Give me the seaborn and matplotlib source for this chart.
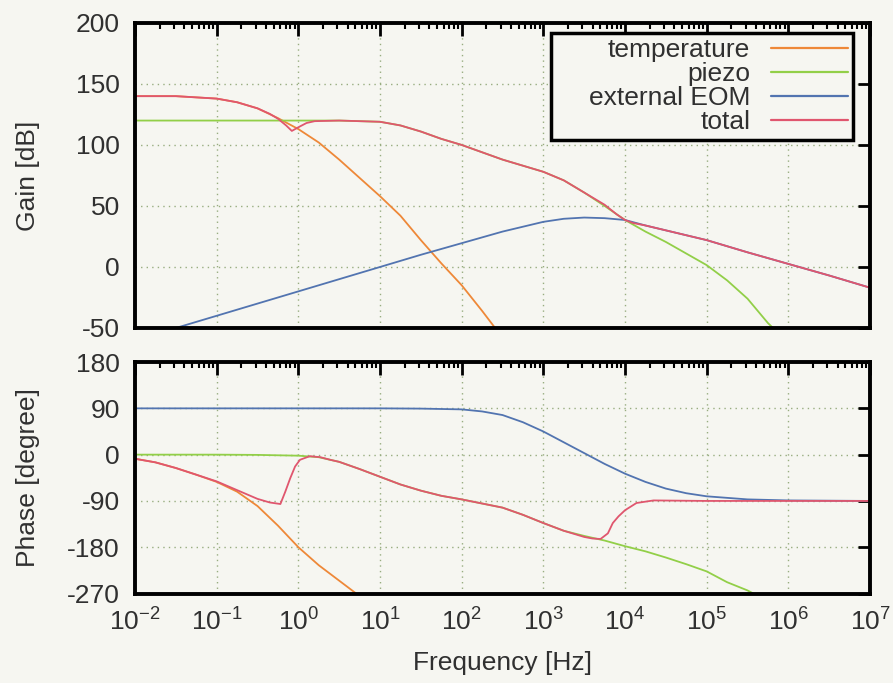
import numpy as np
import pandas as pd
import matplotlib
matplotlib.use('Agg')
import matplotlib.pyplot as plt
import seaborn as sns
from matplotlib.lines import Line2D
from matplotlib.ticker import LogLocator, NullFormatter, LogFormatterSciNotation, FixedLocator

# ── data (x given as log10 of frequency in Hz) ──
series_names = ["temperature", "piezo", "external EOM", "total"]

temp_gain_logf = [-2, -1.5, -1, -0.75, -0.5, -0.25, 0, 0.25, 0.5, 0.75, 1, 1.25, 1.5, 1.75, 2, 2.25, 2.5]
temp_gain_db = [140, 140, 138, 135, 130, 122, 113, 102, 88, 73, 58, 42, 22, 3, -15, -36, -58]

piezo_gain_logf = [-2, -1, 0, 0.5, 1, 1.25, 1.5, 1.75, 2, 2.25, 2.5, 2.75, 3, 3.25, 3.5, 3.75,
                   4, 4.25, 4.5, 4.75, 5, 5.25, 5.5, 5.75, 6]
piezo_gain_db = [120, 120, 120, 120, 119, 116, 111, 105, 100, 94, 88, 83, 78, 71, 61, 50,
                 38.5, 29, 20.5, 11, 1.5, -11, -26, -46, -62]

eom_gain_logf = [-1.6, -1.5, -1, 0, 1, 1.5, 2, 2.5, 3, 3.25, 3.5, 3.75, 4, 4.25, 4.5, 4.75,
                 5, 5.5, 6, 6.5, 7]
eom_gain_db = [-52, -50, -40, -20, 0, 10, 19.5, 29, 37, 39.5, 40.5, 40, 38.5, 34, 30, 26,
               22, 12, 2.5, -7, -17]

total_gain_logf = [-2, -1.5, -1, -0.75, -0.5, -0.35, -0.25, -0.15, -0.08, 0, 0.1, 0.2, 0.5, 1,
                   1.25, 1.5, 1.75, 2, 2.25, 2.5, 2.75, 3, 3.25, 3.5, 3.75, 3.9, 4, 4.1, 4.25,
                   4.5, 4.75, 5, 5.5, 6, 6.5, 7]
total_gain_db = [140, 140, 138, 135, 130, 125.5, 121.5, 116, 111.5, 114.5, 118, 119.5, 120, 119,
                 116, 111, 105, 100, 94, 88, 83, 78, 71, 61, 51, 43, 38.5, 36, 34,
                 30, 26, 22, 12, 2.5, -7, -17]

temp_phase_logf = [-2, -1.75, -1.5, -1.25, -1, -0.75, -0.5, -0.25, 0, 0.25, 0.5, 0.75]
temp_phase_deg = [-8, -15, -26, -39, -53, -72, -100, -138, -180, -215, -245, -275]

piezo_phase_logf = [-2, -1, -0.5, 0, 0.25, 0.5, 0.75, 1, 1.25, 1.5, 1.75, 2, 2.25, 2.5, 2.75,
                    3, 3.25, 3.5, 3.75, 4, 4.25, 4.5, 4.75, 5, 5.25, 5.5, 5.75]
piezo_phase_deg = [0, 0, -0.5, -2, -5, -14, -28, -43, -58, -70, -80, -87, -95, -103, -117,
                   -133, -148, -158, -167, -178, -188, -200, -213, -227, -248, -264, -285]

eom_phase_logf = [-2, 1, 1.5, 2, 2.25, 2.5, 2.75, 3, 3.25, 3.5, 3.75, 4, 4.25, 4.5, 4.75, 5,
                  5.5, 6, 7]
eom_phase_deg = [90, 90, 89.5, 88, 84, 77, 63, 45, 24, 3, -18, -37, -53, -66, -75, -81,
                 -87, -89, -90]

total_phase_logf = [-2, -1.75, -1.5, -1.25, -1, -0.75, -0.5, -0.35, -0.22, -0.16, -0.1, -0.04,
                    0.02, 0.14, 0.27, 0.39, 0.5, 0.75, 1, 1.25, 1.5, 1.75, 2, 2.25, 2.5, 2.75,
                    3, 3.25, 3.5, 3.6, 3.7, 3.79, 3.85, 3.92, 4, 4.14, 4.35, 5, 6, 7]
total_phase_deg = [-8, -15, -26, -39, -52, -69, -86, -93, -96, -72, -46, -23,
                   -10, -3, -5, -10, -14, -28, -43, -58, -70, -80, -87, -95, -103, -117,
                   -133, -148, -160, -163, -164, -153, -133, -120, -108, -94, -89, -90, -90, -90]

gain_ticks = [-50, 0, 50, 100, 150, 200]
phase_ticks = [-270, -180, -90, 0, 90, 180]

colors = {"temperature": "#ee8838", "piezo": "#92cf48", "external EOM": "#5274b0", "total": "#e0566e"}


def long_table(parts):
    frames = []
    for name, logf, vals in parts:
        frames.append(pd.DataFrame({"freq": 10.0 ** np.array(logf, dtype=float),
                                    "value": vals, "series": name}))
    return pd.concat(frames, ignore_index=True)


gain_df = long_table([("temperature", temp_gain_logf, temp_gain_db),
                      ("piezo", piezo_gain_logf, piezo_gain_db),
                      ("external EOM", eom_gain_logf, eom_gain_db),
                      ("total", total_gain_logf, total_gain_db)])
phase_df = long_table([("temperature", temp_phase_logf, temp_phase_deg),
                       ("piezo", piezo_phase_logf, piezo_phase_deg),
                       ("external EOM", eom_phase_logf, eom_phase_deg),
                       ("total", total_phase_logf, total_phase_deg)])

# ── style ────────────────────────────────────────────────────
sns.set_theme(style="white")
bg = "#f6f6f1"
txt = "#303030"
plt.rcParams["font.family"] = ["Liberation Sans", "DejaVu Sans"]
plt.rcParams.update({
    "figure.facecolor": bg, "axes.facecolor": bg, "savefig.facecolor": bg,
    "text.color": txt, "axes.labelcolor": txt,
    "xtick.color": "black", "ytick.color": "black",
    "xtick.labelcolor": txt, "ytick.labelcolor": txt,
    "axes.unicode_minus": False,
})

fig = plt.figure(figsize=(8.93, 6.83), dpi=100)
ax_g = fig.add_axes([0.1512, 0.5198, 0.8231, 0.4466])
ax_p = fig.add_axes([0.1512, 0.1310, 0.8231, 0.3389])

for ax, df, ylim, yt in [(ax_g, gain_df, (-50, 200), gain_ticks),
                         (ax_p, phase_df, (-270, 180), phase_ticks)]:
    sns.lineplot(data=df, x="freq", y="value", hue="series", hue_order=series_names,
                 palette=colors, estimator=None, sort=False, legend=False,
                 linewidth=1.3, ax=ax)
    ax.set_xscale("log")
    ax.set_xlim(1e-2, 1e7)
    ax.set_ylim(*ylim)
    ax.yaxis.set_major_locator(FixedLocator(yt))
    ax.xaxis.set_major_locator(LogLocator(base=10, numticks=20))
    ax.xaxis.set_minor_locator(LogLocator(base=10, subs=np.arange(2, 10), numticks=20))
    ax.xaxis.set_minor_formatter(NullFormatter())
    ax.grid(True, which="major", color="#98ad80", linestyle=(0, (1, 3)), linewidth=1.0)
    ax.tick_params(which="major", direction="in", length=9, width=2, top=True, right=True,
                   labelsize=19, pad=11)
    ax.tick_params(which="minor", direction="in", length=4.5, width=1.5, top=True, right=True)
    for sp in ax.spines.values():
        sp.set_linewidth(2.8)
        sp.set_color("black")
    ax.set_xlabel("")

ax_g.xaxis.set_major_formatter(NullFormatter())
ax_p.xaxis.set_major_formatter(LogFormatterSciNotation())

ax_g.set_ylabel("Gain [dB]", fontsize=19)
ax_p.set_ylabel("Phase [degree]", fontsize=19)
ax_g.yaxis.set_label_coords(-0.129, 0.5)
ax_p.yaxis.set_label_coords(-0.129, 0.5)
ax_p.set_xlabel("Frequency [Hz]", fontsize=19)
ax_p.xaxis.set_label_coords(0.5, -0.25)

# gnuplot-style key: labels right-aligned, samples on the right, wide box
handles = [Line2D([], [], color=colors[n], linewidth=1.6) for n in series_names]
leg = ax_g.legend(handles, series_names, loc="upper right", bbox_to_anchor=(0.977, 0.967),
                  borderaxespad=0, markerfirst=False, frameon=True, fancybox=False,
                  edgecolor="black", facecolor=bg, framealpha=1, fontsize=19,
                  handlelength=2.9, handletextpad=0.8, labelspacing=0.0, borderpad=0.2)
leg.get_frame().set_linewidth(2.5)
leg._legend_handle_box.get_children()[0].width = 292

plt.savefig("out.png", dpi=100)
